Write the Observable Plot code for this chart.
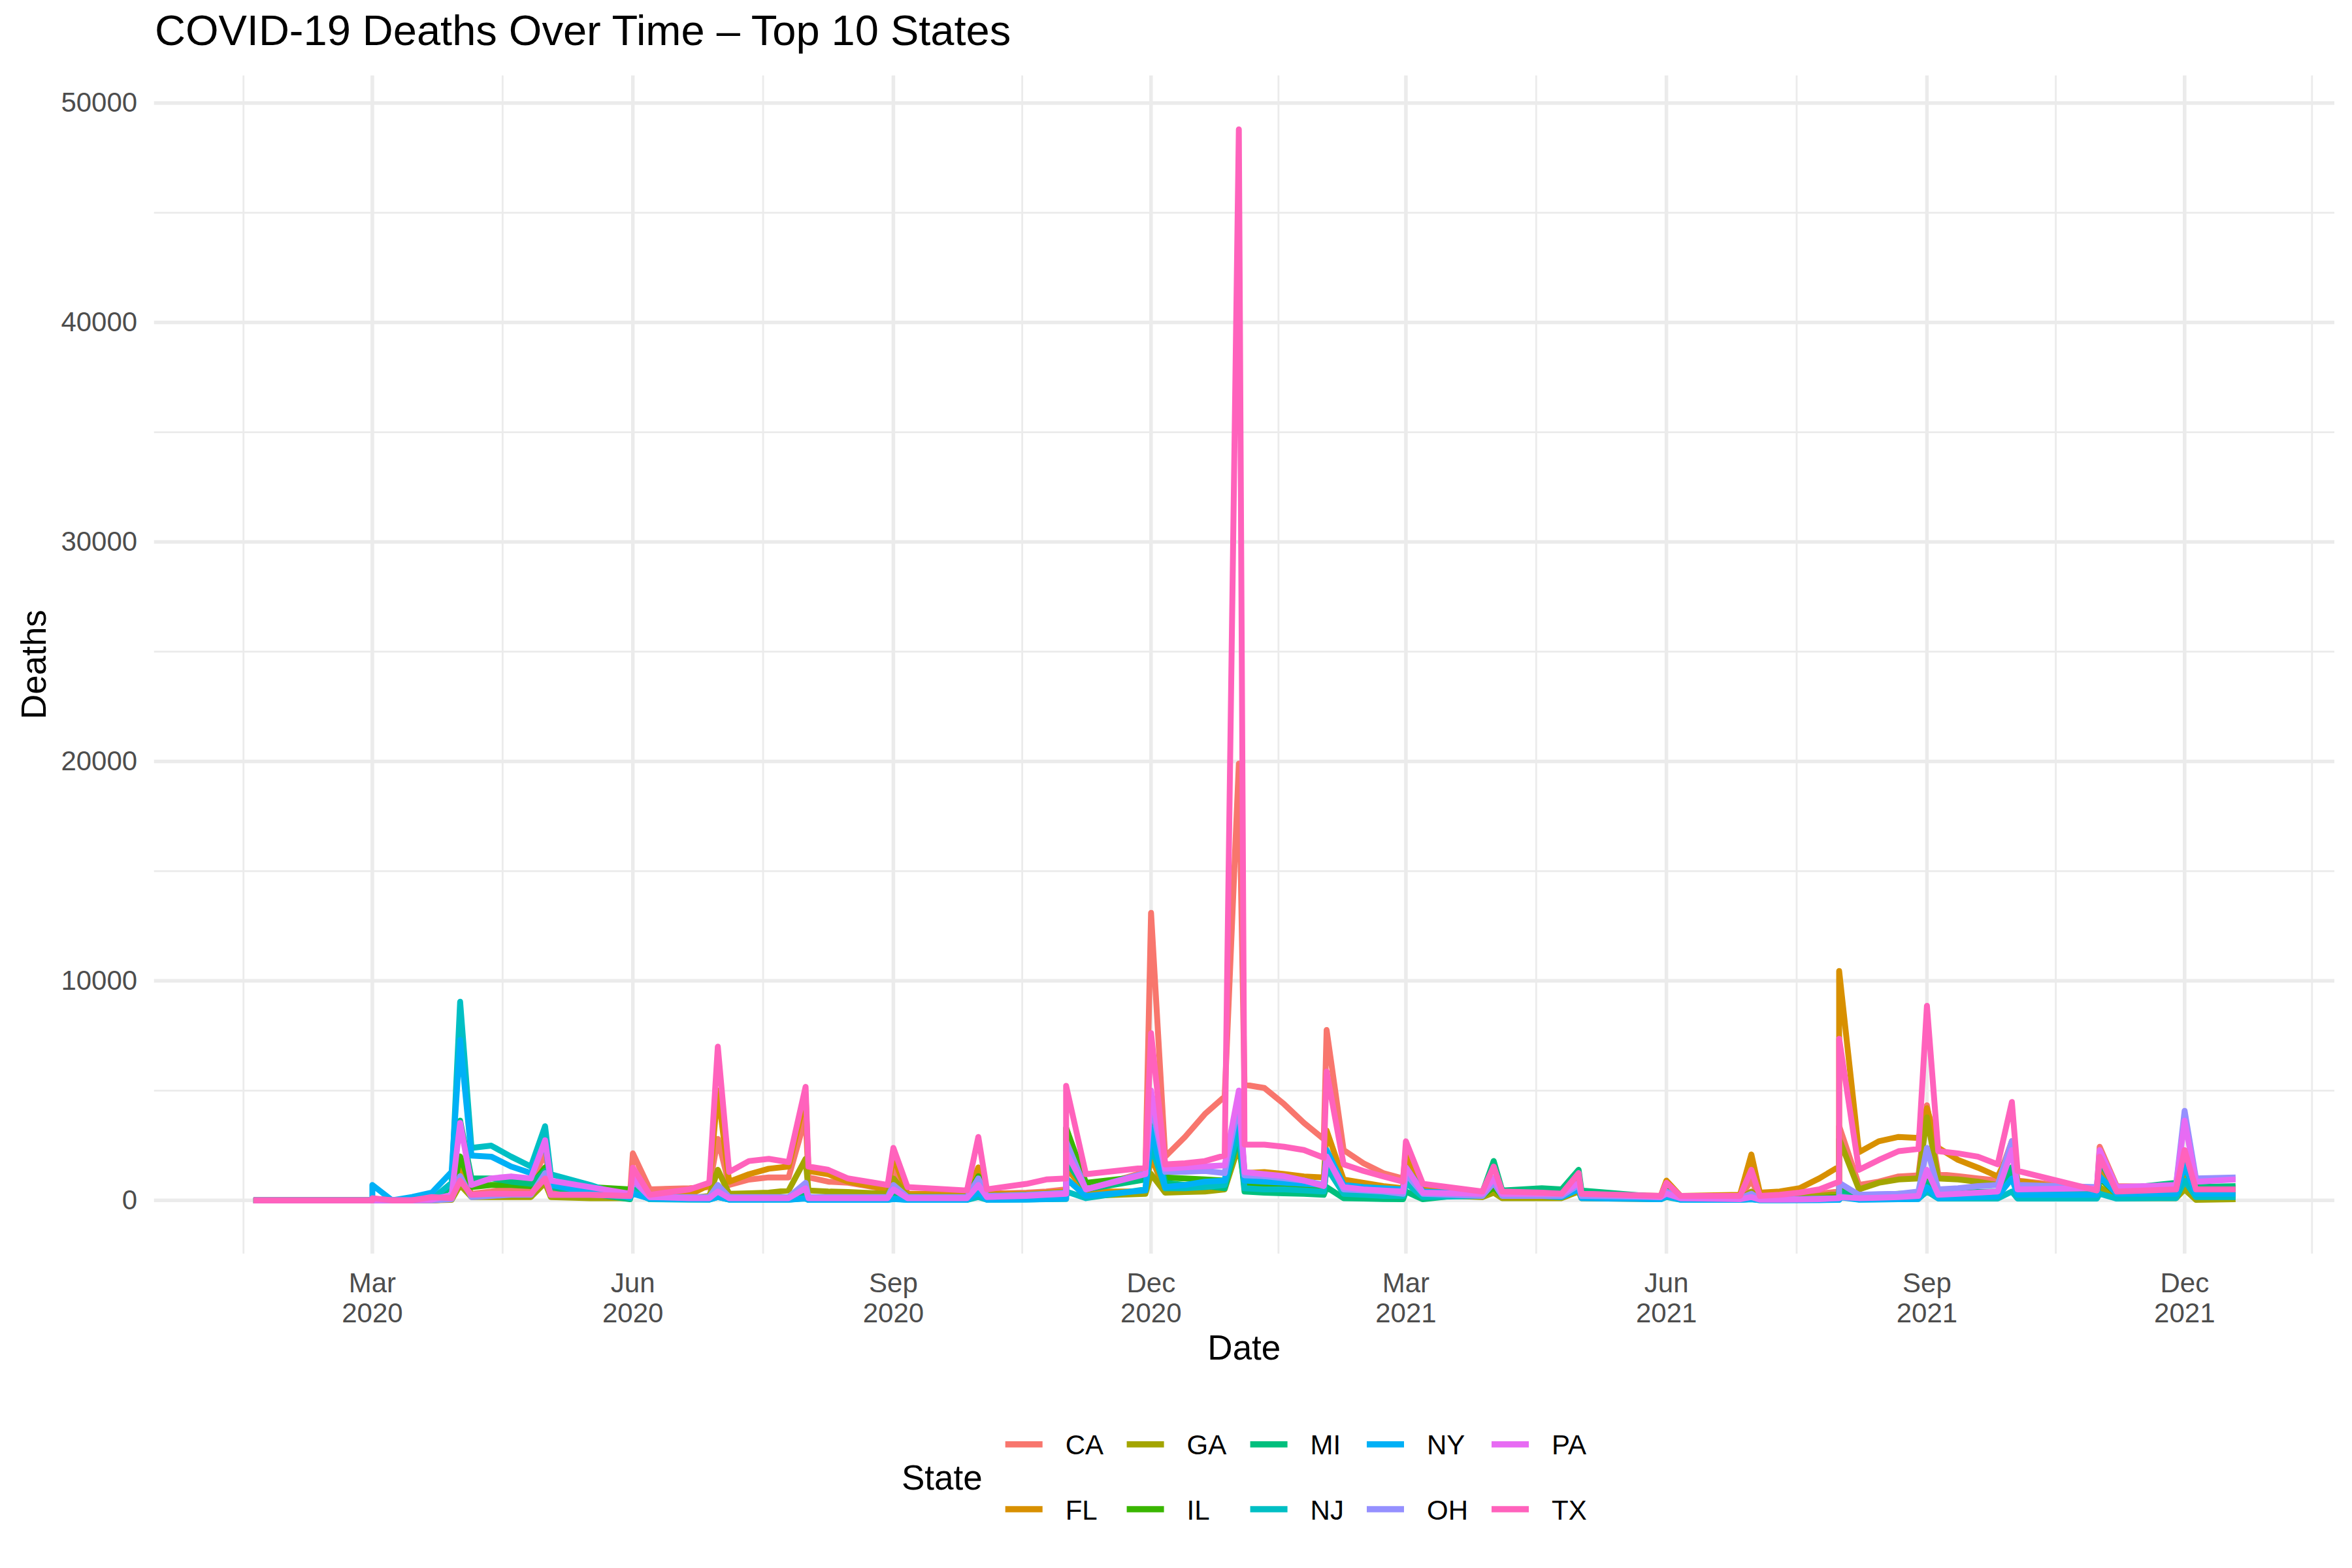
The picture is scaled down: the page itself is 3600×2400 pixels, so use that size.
<!DOCTYPE html>
<html><head><meta charset="utf-8">
<script src="https://cdn.jsdelivr.net/npm/d3@7"></script>
<script src="https://cdn.jsdelivr.net/npm/@observablehq/plot@0.6"></script>
<style>
html,body{margin:0;padding:0;background:#fff;}
#wrap{position:relative;width:3600px;height:2400px;background:#fff;font-family:"Liberation Sans",Arial,sans-serif;}
#chart{position:absolute;left:0;top:0;}
#overlay{position:absolute;left:0;top:0;}
</style></head><body>
<div id="wrap"><div id="chart"></div><svg id="overlay" width="3600" height="2400"></svg></div>
<script>
// ---------- data ----------
const dates = [
 "2020-01-19","2020-03-01","2020-03-01","2020-03-08","2020-03-15","2020-03-22","2020-03-29",
 "2020-04-01","2020-04-05","2020-04-12","2020-04-19","2020-04-26",
 "2020-05-01","2020-05-03","2020-05-17","2020-05-31",
 "2020-06-01","2020-06-07","2020-06-21","2020-06-28",
 "2020-07-01","2020-07-05","2020-07-12","2020-07-19","2020-07-26",
 "2020-08-01","2020-08-02","2020-08-09","2020-08-16","2020-08-30",
 "2020-09-01","2020-09-06","2020-09-27",
 "2020-10-01","2020-10-04","2020-10-18","2020-10-25",
 "2020-11-01","2020-11-01","2020-11-08","2020-11-29",
 "2020-12-01","2020-12-06","2020-12-13","2020-12-20","2020-12-27",
 "2021-01-01","2021-01-03","2021-01-10","2021-01-17","2021-01-24","2021-01-31",
 "2021-02-01","2021-02-07","2021-02-14","2021-02-21","2021-02-28",
 "2021-03-01","2021-03-07","2021-03-28",
 "2021-04-01","2021-04-04","2021-04-18","2021-04-25",
 "2021-05-01","2021-05-02","2021-05-30",
 "2021-06-01","2021-06-06","2021-06-27",
 "2021-07-01","2021-07-04","2021-07-11","2021-07-18","2021-07-25",
 "2021-08-01","2021-08-01","2021-08-08","2021-08-15","2021-08-22","2021-08-29",
 "2021-09-01","2021-09-05","2021-09-12","2021-09-19","2021-09-26",
 "2021-10-01","2021-10-03","2021-10-31",
 "2021-11-01","2021-11-07","2021-11-28",
 "2021-12-01","2021-12-05","2021-12-19"
];

const CA = [0,0,0,0,0,0,50, 1200,300,400,550,500, 2290,400,300,250, 2140,500,550,600, 2800,700,945,1045,1045, 3800,1045,850,800,500, 1500,300,300, 1200,300,350,400, 500,1800,500,1300, 13100,1990,2890,3930,4730, 19900,5270,5120,4380,3530,2790, 7760,2290,1690,1240,995, 2300,500,300, 900,300,250,250, 700,250,200, 700,200,150, 900,150,200,250,300, 400,3380,700,850,1090,1140, 4330,1190,1100,1000,900, 2700,900,500, 2440,650,600, 2000,550,550];
const FL = [0,0,0,0,0,0,50, 1700,200,250,300,300, 1200,250,200,200, 900,150,250,700, 5000,850,1190,1440,1540, 4800,1340,1190,850,500, 2000,300,250, 1500,300,300,350, 400,1500,400,400, 2000,400,450,500,600, 4500,1240,1290,1200,1090,1045, 3180,945,800,650,550, 2000,550,300, 700,250,250,250, 600,250,200, 900,200,250, 2090,350,400,550,1000, 1540,10450,2190,2690,2890,2840, 4200,2390,1840,1490,1090, 2400,900,300, 1500,300,300, 1000,250,250];
const GA = [0,0,0,0,0,0,20, 700,150,150,150,150, 800,150,100,100, 600,100,100,200, 1390,300,320,350,450, 1890,450,400,380,300, 1000,200,150, 900,150,150,200, 200,1000,200,300, 1200,350,380,400,500, 2500,700,700,650,600,550, 2000,450,400,350,300, 1200,250,150, 350,100,100,100, 400,100,50, 300,50,50, 400,50,80,120,200, 300,2790,500,800,950,1000, 3780,1000,950,850,700, 1500,500,150, 600,100,100, 500,20,50];
const IL = [0,0,0,0,0,50,150, 2000,600,700,700,650, 1500,600,600,500, 900,150,100,100, 600,100,100,100,120, 500,120,120,120,150, 600,150,150, 1100,200,250,300, 350,3300,800,1100, 4280,1045,1000,950,900, 3500,700,650,600,500,450, 1500,350,300,250,200, 900,200,200, 600,200,250,300, 900,300,150, 500,100,50, 150,40,50,60,100, 150,500,200,250,300,300, 1000,350,350,350,350, 1400,350,300, 1000,300,400, 1500,400,450];
const MI = [0,0,0,0,0,50,600, 3630,1000,1000,850,750, 1340,600,300,50, 600,50,50,50, 300,50,50,50,50, 300,50,50,50,50, 300,60,70, 600,120,150,200, 250,1800,500,950, 3800,800,700,650,550, 3000,400,350,320,300,250, 600,100,80,60,50, 400,50,350, 1790,450,550,500, 1390,450,150, 400,100,50, 200,40,40,50,80, 100,400,150,200,250,280, 800,300,350,380,400, 1500,500,500, 1800,500,800, 1800,600,650];
const NJ = [0,0,0,0,0,50,800, 9050,2390,2490,1990,1540, 3380,1190,700,100, 400,50,30,30, 150,30,30,30,30, 100,20,20,20,20, 80,20,20, 150,30,40,50, 60,400,100,500, 2500,550,550,600,700, 3300,550,500,500,450,400, 1500,300,250,200,200, 800,150,200, 1000,250,250,200, 700,150,50, 150,30,20, 50,10,10,15,20, 30,200,40,50,60,70, 400,80,80,80,80, 400,80,80, 300,80,100, 900,150,150];
const NY = [0,0,700,0,150,350,1300, 7310,2040,1990,1540,1240, 2700,700,350,150, 300,80,50,40, 150,30,30,30,30, 80,20,20,20,20, 60,20,20, 350,30,40,60, 80,990,200,450, 3280,600,700,850,900, 4200,900,850,800,750,700, 2290,700,600,550,500, 1500,400,300, 1000,250,200,150, 500,100,50, 200,30,20, 50,10,10,10,10, 20,150,30,40,50,60, 600,100,120,150,180, 1000,250,250, 1090,300,300, 1590,300,300];
const OH = [0,0,0,0,0,0,50, 1100,150,200,250,250, 1240,250,250,200, 900,150,150,150, 700,150,150,150,150, 800,150,150,150,150, 700,150,150, 1000,200,250,300, 350,2690,500,1240, 4500,1300,1300,1340,1240, 4500,1140,1100,1000,900,700, 2000,500,450,400,300, 1200,300,200, 800,200,200,200, 700,200,150, 400,100,100, 300,60,60,60,80, 100,800,250,280,300,400, 2390,500,550,650,700, 2700,700,600, 2000,500,700, 4080,1000,1040];
const PA = [0,0,0,0,0,30,250, 3530,700,1000,1090,1000, 2740,900,600,300, 1000,150,100,100, 400,100,100,100,100, 550,100,100,100,100, 500,100,100, 700,150,200,250, 300,2200,500,1190, 5000,1440,1500,1550,1590, 5000,1290,1190,1100,900,650, 1990,600,500,450,400, 1500,350,300, 1000,300,300,300, 800,300,150, 300,100,50, 150,30,30,40,50, 100,150,100,120,150,200, 1390,250,300,350,400, 2290,500,550, 2290,600,700, 3630,850,950];
const TX = [0,0,100,0,0,150,100, 900,250,300,300,300, 1000,250,250,200, 1490,250,500,800, 7000,1290,1790,1890,1740, 5170,1540,1390,995,700, 2390,600,450, 2890,500,750,950, 1000,5220,1190,1490, 7610,1640,1690,1790,2040, 48800,2540,2540,2440,2290,1940, 5870,1640,1340,1090,850, 2690,750,400, 1540,400,350,300, 1240,300,200, 800,200,200, 1390,200,250,350,500, 850,7360,1390,1840,2240,2340, 8860,2240,2140,1990,1640, 4480,1340,450, 1990,400,500, 2290,500,500];

const states = ["CA","FL","GA","IL","MI","NJ","NY","OH","PA","TX"];
const colors = ["#F8766D","#D89000","#A3A500","#39B600","#00BF7D","#00BFC4","#00B0F6","#9590FF","#E76BF3","#FF62BC"];
const xTicks = ["2020-03-01","2020-06-01","2020-09-01","2020-12-01","2021-03-01","2021-06-01","2021-09-01","2021-12-01"];
const xMinor = ["2020-01-15T12:00Z","2020-04-16","2020-07-17","2020-10-16T12:00Z","2021-01-15","2021-04-16","2021-07-17","2021-10-16T12:00Z","2022-01-15"];
const yTicks = [0,10000,20000,30000,40000,50000];
const yMinor = [5000,15000,25000,35000,45000];

// ---------- build ----------
const seriesByState = {CA, FL, GA, IL, MI, NJ, NY, OH, PA, TX};
const rows = [];
for (const s of states) seriesByState[s].forEach((v, i) => rows.push({state: s, date: new Date(dates[i]), value: v}));

const W = 3600, H = 2120;
const panelL = 235.7, panelR = 3573, panelT = 115.5, panelB = 1918.7;
const FONT = '"Liberation Sans", Arial, Helvetica, sans-serif';
const fmtMon = d3.utcFormat("%b");

const chart = Plot.plot({
  width: W, height: H,
  marginLeft: panelL, marginRight: W - panelR, marginTop: panelT, marginBottom: H - panelB,
  style: {fontFamily: FONT, fontSize: "42px", color: "#4D4D4D", background: "transparent"},
  x: {type: "utc", domain: [new Date("2019-12-15"), new Date("2022-01-23")], label: null},
  y: {domain: [-2440, 51240], label: null},
  color: {domain: states, range: colors},
  marks: [
    Plot.ruleX(xMinor.map(d => new Date(d)), {stroke: "#EBEBEB", strokeWidth: 2.8}),
    Plot.ruleY(yMinor, {stroke: "#EBEBEB", strokeWidth: 2.8}),
    Plot.ruleX(xTicks.map(d => new Date(d)), {stroke: "#EBEBEB", strokeWidth: 5.5}),
    Plot.ruleY(yTicks, {stroke: "#EBEBEB", strokeWidth: 5.5}),
    Plot.line(rows, {x: "date", y: "value", z: "state", stroke: "state", strokeWidth: 9, strokeLinejoin: "round", strokeLinecap: "butt", curve: "linear"}),
    Plot.axisX(xTicks.map(d => new Date(d)), {tickSize: 0, tickPadding: 26, label: null, fontSize: 42, lineHeight: 1.1, fill: "#4D4D4D",
      tickFormat: d => fmtMon(d) + "\n" + d.getUTCFullYear()}),
    Plot.axisY(yTicks, {tickSize: 0, tickPadding: 26, label: null, fontSize: 42, fill: "#4D4D4D", tickFormat: d => String(d)})
  ]
});
document.getElementById("chart").appendChild(chart);

// ---------- titles & legend ----------
const ov = d3.select("#overlay").style("font-family", FONT);
ov.append("text").attr("x", 237).attr("y", 69).attr("font-size", 65).attr("fill", "#000")
  .text("COVID-19 Deaths Over Time – Top 10 States");
ov.append("text").attr("x", (panelL + panelR) / 2).attr("y", 2081).attr("font-size", 53).attr("fill", "#000")
  .attr("text-anchor", "middle").text("Date");
ov.append("text").attr("transform", `translate(70,${(panelT + panelB) / 2}) rotate(-90)`).attr("font-size", 53)
  .attr("fill", "#000").attr("text-anchor", "middle").text("Deaths");

ov.append("text").attr("x", 1380).attr("y", 2280).attr("font-size", 53).attr("fill", "#000").text("State");
const colX = [1538.7, 1724.6, 1913.6, 2092, 2283];
const rowY = [2210.7, 2310];
states.forEach((s, i) => {
  const c = Math.floor(i / 2), r = i % 2;
  const g = ov.append("g");
  g.append("line").attr("x1", colX[c]).attr("x2", colX[c] + 57).attr("y1", rowY[r]).attr("y2", rowY[r])
    .attr("stroke", colors[i]).attr("stroke-width", 9.5);
  g.append("text").attr("x", colX[c] + 92).attr("y", rowY[r] + 15.5).attr("font-size", 42).attr("fill", "#000").text(s);
});
</script></body></html>
